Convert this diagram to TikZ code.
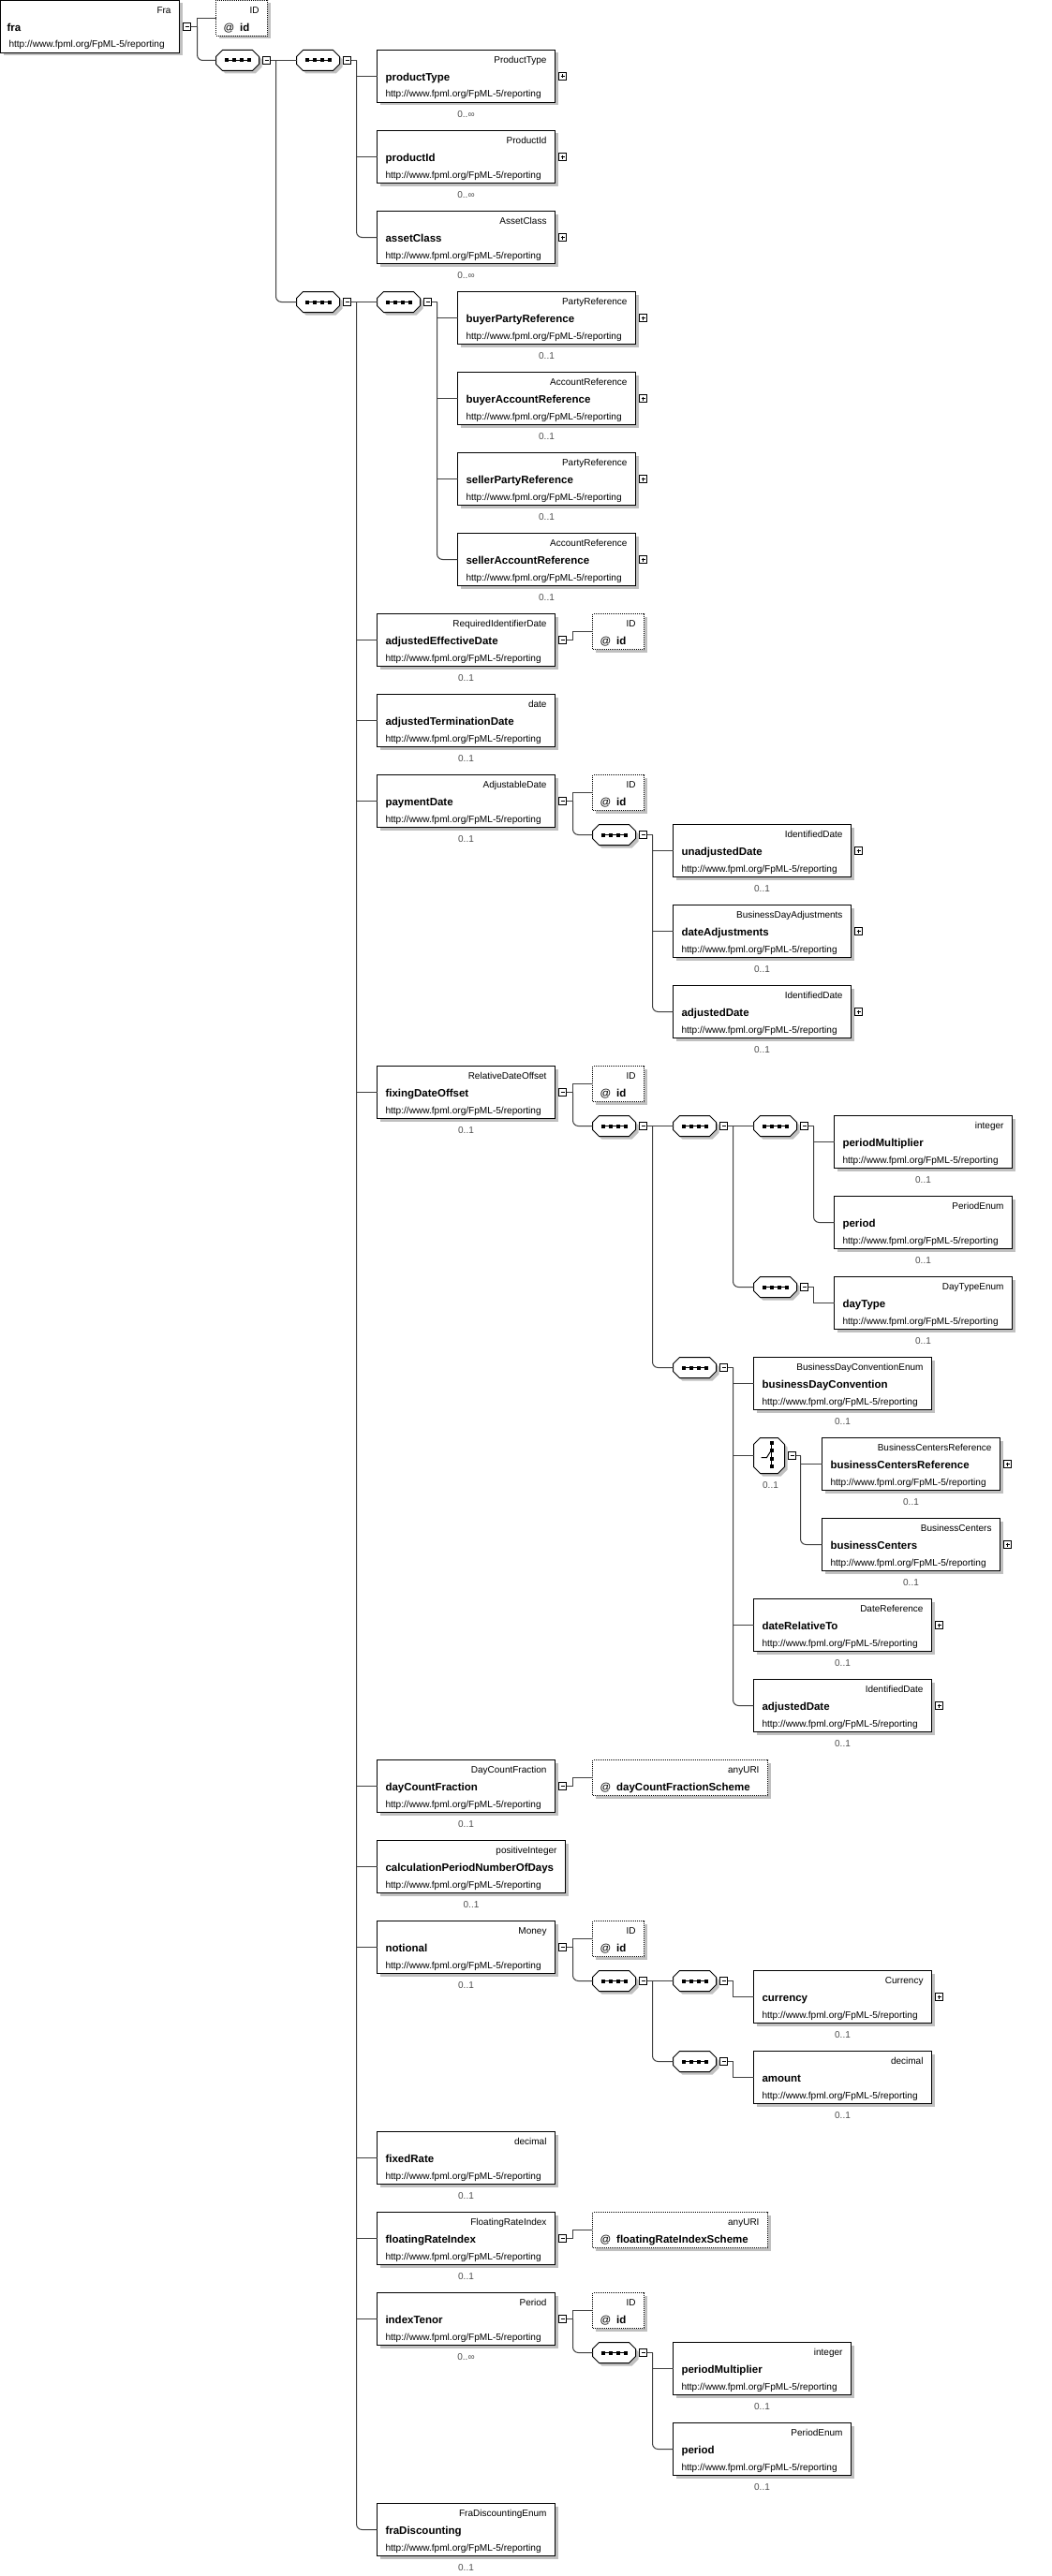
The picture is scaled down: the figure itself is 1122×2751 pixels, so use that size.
\documentclass[tikz,border=0pt]{standalone}
\usepackage{fontspec}
\setmainfont{Liberation Sans}
\usetikzlibrary{shadows}
\definecolor{shd}{HTML}{C0C0C0}
\definecolor{lnc}{HTML}{404040}
\tikzset{
 ebox/.style={draw=black, line width=1pt, fill=white, minimum height=56pt, inner sep=0pt, outer sep=0pt,
   drop shadow={shadow xshift=3pt, shadow yshift=-3pt, fill=shd, opacity=1}},
 abox/.style={draw=black, line width=1pt, dash pattern=on 1pt off 1pt, fill=white, minimum height=38pt, inner sep=0pt, outer sep=0pt,
   drop shadow={shadow xshift=3pt, shadow yshift=-3pt, fill=shd, opacity=1}},
 typ/.style={font=\fontsize{10}{12}\selectfont, inner sep=0pt, outer sep=0pt},
 nm/.style={font=\fontsize{11.5}{13}\selectfont\bfseries, inner sep=0pt, outer sep=0pt},
 url/.style={font=\fontsize{10.1}{12}\selectfont, inner sep=0pt, outer sep=0pt},
 card/.style={font=\fontsize{10}{12}\selectfont, text=black!70, inner sep=0pt, outer sep=0pt},
 conn/.style={draw=lnc, line width=1pt},
 seqn/.style={inner sep=0pt, outer sep=0pt, minimum width=46pt, minimum height=22pt},
 chn/.style={inner sep=0pt, outer sep=0pt, minimum width=33pt, minimum height=38pt},
 pmbox/.style={draw=black, line width=1pt, fill=white, minimum size=8pt, inner sep=0pt, outer sep=0pt},
 minusb/.style={pmbox, path picture={\draw[line width=1pt] ([xshift=2pt]path picture bounding box.west) -- ([xshift=-2pt]path picture bounding box.east);}},
 plusb/.style={pmbox, path picture={\draw[line width=1pt] ([xshift=2pt]path picture bounding box.west) -- ([xshift=-2pt]path picture bounding box.east);
   \draw[line width=1pt] ([yshift=-2pt]path picture bounding box.north) -- ([yshift=2pt]path picture bounding box.south);}},
}
\newcommand\Elem[7]{%
 \node[ebox, minimum width=#4pt, anchor=north west] (#1) at (#2,#3) {};
 \node[typ, anchor=base east] (#1-t) at (#2+#4-9,#3+14) {#5};
 \node[nm, anchor=base west] (#1-n) at (#2+9,#3+33) {#6};
 \node[url, anchor=base west] (#1-u) at (#2+9,#3+50.5) {http://www.fpml.org/FpML-5/reporting};
 \node[card, anchor=base] (#1-c) at (#2+#4/2,#3+72) {#7};}
\newcommand\Attr[6]{%
 \node[abox, minimum width=#4pt, anchor=north west] (#1) at (#2,#3) {};
 \node[typ, anchor=base east] (#1-t) at (#2+#4-9,#3+14) {#5};
 \node[nm, anchor=base west] (#1-n) at (#2+8,#3+33) {{\mdseries @}\hspace{6pt}#6};}
\newcommand\Mbtn[1]{%
 \node[minusb] (#1-b) at ([xshift=8pt]#1.east) {};
 \coordinate (#1-j) at ([xshift=19pt]#1.east);
 \draw[conn] (#1-b.east) -- (#1-j);}
\newcommand\Pbtn[1]{\node[plusb] (#1-b) at ([xshift=8pt]#1.east) {};}
\newcommand\Seq[3]{%
 \fill[shd] (#2+10,#3+3) -- (#2+42,#3+3) -- (#2+49,#3+10) -- (#2+49,#3+18) -- (#2+42,#3+25) -- (#2+10,#3+25) -- (#2+3,#3+18) -- (#2+3,#3+10) -- cycle;
 \draw[line width=1pt, fill=white] (#2+7,#3) -- (#2+39,#3) -- (#2+46,#3+7) -- (#2+46,#3+15) -- (#2+39,#3+22) -- (#2+7,#3+22) -- (#2,#3+15) -- (#2,#3+7) -- cycle;
 \draw[line width=1pt] (#2+9,#3+11) -- (#2+37,#3+11);
 \foreach \d in {11,19,27,35} {\fill (#2+\d-2,#3+9) rectangle ++(4,4);}
 \node[seqn] (#1) at (#2+23,#3+11) {};
 \node[minusb] (#1-b) at (#2+54,#3+11) {};
 \coordinate (#1-j) at (#2+64,#3+11);
 \draw[conn] (#1-b.east) -- (#1-j);}
\newcommand\Choice[3]{%
 \fill[shd] (#2+10,#3+3) -- (#2+29,#3+3) -- (#2+36,#3+10) -- (#2+36,#3+34) -- (#2+29,#3+41) -- (#2+10,#3+41) -- (#2+3,#3+34) -- (#2+3,#3+10) -- cycle;
 \draw[line width=1pt, fill=white] (#2+7,#3) -- (#2+26,#3) -- (#2+33,#3+7) -- (#2+33,#3+31) -- (#2+26,#3+38) -- (#2+7,#3+38) -- (#2,#3+31) -- (#2,#3+7) -- cycle;
 \draw[line width=1pt] (#2+19,#3+5) -- (#2+19,#3+30);
 \draw[line width=1pt] (#2+8,#3+21) -- (#2+14,#3+21) -- (#2+19,#3+13);
 \foreach \d in {5,13,22,30} {\fill (#2+17,#3+\d-2) rectangle ++(4,4);}
 \node[chn] (#1) at (#2+16.5,#3+19) {};
 \node[card, anchor=base] (#1-c) at (#2+18,#3+54) {0..1};
 \node[minusb] (#1-b) at (#2+41,#3+19) {};
 \coordinate (#1-j) at (#2+50,#3+19);
 \draw[conn] (#1-b.east) -- (#1-j);}
\newcommand\Kid[2]{\draw[conn] (#1-j) |- (#2.west);}
\newcommand\LastKid[2]{\draw[conn, rounded corners=6pt] (#1-j) |- (#2.west);}
\begin{document}
\begin{tikzpicture}[x=1pt, y=-1pt]
\useasboundingbox (0,0) rectangle (1122,2751);
\begin{scope}[shift={(0.5,0.5)}]
% root
\node[ebox, minimum width=191pt, anchor=north west] (fra) at (0,0) {};
\node[typ, anchor=base east] (fra-t) at (182,14) {Fra};
\node[nm, anchor=base west] (fra-n) at (7,33) {fra};
\node[url, anchor=base west] (fra-u) at (9,50.5) {http://www.fpml.org/FpML-5/reporting};
\Mbtn{fra}
\Attr{fraid}{230}{0}{55}{ID}{id}
\Seq{sA}{230}{53}
\Kid{fra}{fraid}
\LastKid{fra}{sA}
% product group
\Seq{sB}{316}{53}
\Seq{sC}{316}{311}
\Kid{sA}{sB}
\LastKid{sA}{sC}
\Elem{pt}{402}{53}{190}{ProductType}{productType}{0..∞}\Pbtn{pt}
\Elem{pid}{402}{139}{190}{ProductId}{productId}{0..∞}\Pbtn{pid}
\Elem{ac}{402}{225}{190}{AssetClass}{assetClass}{0..∞}\Pbtn{ac}
\Kid{sB}{pt}\Kid{sB}{pid}\LastKid{sB}{ac}
% parties
\Seq{sD}{402}{311}
\Kid{sC}{sD}
\Elem{bpr}{488}{311}{190}{PartyReference}{buyerPartyReference}{0..1}\Pbtn{bpr}
\Elem{bar}{488}{397}{190}{AccountReference}{buyerAccountReference}{0..1}\Pbtn{bar}
\Elem{spr}{488}{483}{190}{PartyReference}{sellerPartyReference}{0..1}\Pbtn{spr}
\Elem{sar}{488}{569}{190}{AccountReference}{sellerAccountReference}{0..1}\Pbtn{sar}
\Kid{sD}{bpr}\Kid{sD}{bar}\Kid{sD}{spr}\LastKid{sD}{sar}
% adjustedEffectiveDate
\Elem{aed}{402}{655}{190}{RequiredIdentifierDate}{adjustedEffectiveDate}{0..1}\Mbtn{aed}
\Attr{aedid}{632}{655}{55}{ID}{id}
\Kid{aed}{aedid}
\Elem{atd}{402}{741}{190}{date}{adjustedTerminationDate}{0..1}
% paymentDate
\Elem{pd}{402}{827}{190}{AdjustableDate}{paymentDate}{0..1}\Mbtn{pd}
\Attr{pdid}{632}{827}{55}{ID}{id}
\Seq{sE}{632}{880}
\Kid{pd}{pdid}\LastKid{pd}{sE}
\Elem{ud}{718}{880}{190}{IdentifiedDate}{unadjustedDate}{0..1}\Pbtn{ud}
\Elem{da}{718}{966}{190}{BusinessDayAdjustments}{dateAdjustments}{0..1}\Pbtn{da}
\Elem{adja}{718}{1052}{190}{IdentifiedDate}{adjustedDate}{0..1}\Pbtn{adja}
\Kid{sE}{ud}\Kid{sE}{da}\LastKid{sE}{adja}
% fixingDateOffset
\Elem{fdo}{402}{1138}{190}{RelativeDateOffset}{fixingDateOffset}{0..1}\Mbtn{fdo}
\Attr{fdoid}{632}{1138}{55}{ID}{id}
\Seq{sF}{632}{1191}
\Kid{fdo}{fdoid}\LastKid{fdo}{sF}
\Seq{sG}{718}{1191}
\Seq{sJ}{718}{1449}
\Kid{sF}{sG}\LastKid{sF}{sJ}
\Seq{sH}{804}{1191}
\Seq{sI}{804}{1363}
\Kid{sG}{sH}\LastKid{sG}{sI}
\Elem{pma}{890}{1191}{190}{integer}{periodMultiplier}{0..1}
\Elem{pera}{890}{1277}{190}{PeriodEnum}{period}{0..1}
\Kid{sH}{pma}\LastKid{sH}{pera}
\Elem{dt}{890}{1363}{190}{DayTypeEnum}{dayType}{0..1}
\Kid{sI}{dt}
\Elem{bdc}{804}{1449}{190}{BusinessDayConventionEnum}{businessDayConvention}{0..1}
\Choice{ch}{804}{1535}
\Elem{bcr}{877}{1535}{190}{BusinessCentersReference}{businessCentersReference}{0..1}\Pbtn{bcr}
\Elem{bc}{877}{1621}{190}{BusinessCenters}{businessCenters}{0..1}\Pbtn{bc}
\Kid{ch}{bcr}\LastKid{ch}{bc}
\Elem{drt}{804}{1707}{190}{DateReference}{dateRelativeTo}{0..1}\Pbtn{drt}
\Elem{adjb}{804}{1793}{190}{IdentifiedDate}{adjustedDate}{0..1}\Pbtn{adjb}
\Kid{sJ}{bdc}\Kid{sJ}{ch}\Kid{sJ}{drt}\LastKid{sJ}{adjb}
% dayCountFraction
\Elem{dcf}{402}{1879}{190}{DayCountFraction}{dayCountFraction}{0..1}\Mbtn{dcf}
\Attr{dcfa}{632}{1879}{187}{anyURI}{dayCountFractionScheme}
\Kid{dcf}{dcfa}
\Elem{cpn}{402}{1965}{201}{positiveInteger}{calculationPeriodNumberOfDays}{0..1}
% notional
\Elem{no}{402}{2051}{190}{Money}{notional}{0..1}\Mbtn{no}
\Attr{noid}{632}{2051}{55}{ID}{id}
\Seq{sK}{632}{2104}
\Kid{no}{noid}\LastKid{no}{sK}
\Seq{sL}{718}{2104}
\Seq{sM}{718}{2190}
\Kid{sK}{sL}\LastKid{sK}{sM}
\Elem{cur}{804}{2104}{190}{Currency}{currency}{0..1}\Pbtn{cur}
\Elem{amt}{804}{2190}{190}{decimal}{amount}{0..1}
\Kid{sL}{cur}\Kid{sM}{amt}
\Elem{fr}{402}{2276}{190}{decimal}{fixedRate}{0..1}
% floatingRateIndex
\Elem{fri}{402}{2362}{190}{FloatingRateIndex}{floatingRateIndex}{0..1}\Mbtn{fri}
\Attr{fria}{632}{2362}{187}{anyURI}{floatingRateIndexScheme}
\Kid{fri}{fria}
% indexTenor
\Elem{it}{402}{2448}{190}{Period}{indexTenor}{0..∞}\Mbtn{it}
\Attr{itid}{632}{2448}{55}{ID}{id}
\Seq{sN}{632}{2501}
\Kid{it}{itid}\LastKid{it}{sN}
\Elem{pmtwo}{718}{2501}{190}{integer}{periodMultiplier}{0..1}
\Elem{pertwo}{718}{2587}{190}{PeriodEnum}{period}{0..1}
\Kid{sN}{pmtwo}\LastKid{sN}{pertwo}
\Elem{fd}{402}{2673}{190}{FraDiscountingEnum}{fraDiscounting}{0..1}
% main trunk
\Kid{sC}{aed}\Kid{sC}{atd}\Kid{sC}{pd}\Kid{sC}{fdo}\Kid{sC}{dcf}\Kid{sC}{cpn}
\Kid{sC}{no}\Kid{sC}{fr}\Kid{sC}{fri}\Kid{sC}{it}\LastKid{sC}{fd}
\end{scope}
\end{tikzpicture}
\end{document}
